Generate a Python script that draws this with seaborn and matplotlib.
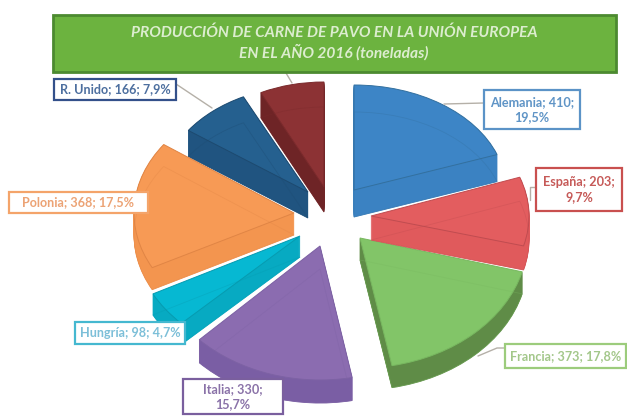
import matplotlib
matplotlib.use("Agg")
import matplotlib.pyplot as plt
import matplotlib.patheffects as pe
from matplotlib.patches import Wedge, Rectangle
from matplotlib.transforms import Affine2D
import seaborn as sns

# data (last slice has its label hidden behind the title)
paises = ['Alemania', 'España', 'Francia', 'Italia', 'Hungría', 'Polonia', 'R. Unido', 'Otros']
toneladas = [410, 203, 373, 330, 98, 368, 166, 152]
porcentajes = ['19,5%', '9,7%', '17,8%', '15,7%', '4,7%', '17,5%', '7,9%', '7,2%']
titulo = 'PRODUCCIÓN DE CARNE DE PAVO EN LA UNIÓN EUROPEA\nEN EL AÑO 2016 (toneladas)'

# look of each slice, in image pixels
face_colors = ['#3d85c6', '#e35d5f', '#82c568', '#8b6cb0', '#06b8d2', '#f79a55', '#25608f', '#8c3234']
wall_colors = ['#3b82c2', '#e05a5c', '#5f8c47', '#7a5ea4', '#07aac2', '#f3954f', '#205480', '#6e2426']
edge_colors = ['#33709f', '#c04c50', '#78b860', '#7d62a4', '#069bb0', '#e08545', '#1d4a70', '#7a2a2c']
apex = [(354, 190), (371, 216), (360, 238), (320, 246), (300, 236), (294, 213), (308, 192), (324, 187)]
radii = [(152, 105), (158, 115), (168, 130), (169, 134), (166, 125), (160, 118), (147, 106), (144, 105)]
depth = [27, 24, 22, 23, 21, 22, 26, 25]
draw_order = [7, 6, 0, 5, 4, 3, 2, 1]

sns.set_theme(style='white')
plt.rcParams['font.family'] = ['Lato', 'DejaVu Sans']

fig = plt.figure(figsize=(6.27, 4.16), dpi=100)
ax = fig.add_axes([0, 0, 1, 1])
wedges, _ = ax.pie(toneladas, startangle=90, counterclock=False,
                   colors=sns.color_palette(face_colors))
ax.set_aspect('auto')
ax.set_xlim(0, 627)
ax.set_ylim(416, 0)
ax.axis('off')


def slice_transform(i, shift=0):
    x, y = apex[i]
    return Affine2D().scale(radii[i][0], -radii[i][1]).translate(x, y + shift) + ax.transData


z = 2
for i in draw_order:
    w = wedges[i]
    # stack copies of the slice downwards to get the thickness
    for d in range(depth[i], 0, -1):
        wall = Wedge((0, 0), 1, w.theta1, w.theta2, color=wall_colors[i], lw=0.6,
                     transform=slice_transform(i, d), zorder=z)
        ax.add_patch(wall)
    w.set_transform(slice_transform(i))
    w.set_zorder(z + 0.2)
    w.set_edgecolor(edge_colors[i])
    w.set_linewidth(0.7)
    # faint see-through edge of the lower face
    low = Wedge((0, 0), 1, w.theta1, w.theta2, fill=False, ec=edge_colors[i], lw=0.6, alpha=0.35,
                transform=slice_transform(i, depth[i]), zorder=z + 0.3)
    ax.add_patch(low)
    z += 1

# leader lines
leaders = [((444, 104), (484, 103)), ((530, 200), (530, 187), (536, 187)),
           ((478, 356), (497, 348), (505, 348)), ((176, 84), (212, 108)), ((286, 73), (292, 83))]
for pts in leaders:
    ax.plot([p[0] for p in pts], [p[1] for p in pts], color='#b5b0a8', lw=1, zorder=30)

# title box
ax.add_patch(Rectangle((53, 15), 563, 57, fc='#6cb33f', ec='#4c8a30', lw=2, zorder=40,
                       path_effects=[pe.withSimplePatchShadow((1, -1), '#888888', 0.5)]))
ax.text(334, 43, titulo, ha='center', va='center', color='#dcedcf', fontsize=11.2, fontweight='bold',
        fontstyle='italic', linespacing=1.35, zorder=41)

# label boxes: x0, y0, x1, y1, border, text colour
boxes = [(484, 90, 580, 129, '#5b93c7', '#5f94c6'),
         (536, 168, 622, 211, '#c9504f', '#c65a58'),
         (505, 344, 626, 368, '#9ccc7c', '#a3c78a'),
         (183, 379, 283, 414, '#7a5f9e', '#8a72a8'),
         (75, 322, 185, 344, '#45b8d0', '#7cbfd8'),
         (9, 192, 148, 213, '#f4a46a', '#eca375'),
         (54, 79, 176, 100, '#33508a', '#4d6f9f')]
for i, (x0, y0, x1, y1, ec, tc) in enumerate(boxes):
    ax.add_patch(Rectangle((x0, y0), x1 - x0, y1 - y0, fc='white', ec=ec, lw=1.6, zorder=50,
                           path_effects=[pe.withSimplePatchShadow((1, -1), ec, 0.4)]))
    s = '{}; {}; {}'.format(paises[i], toneladas[i], porcentajes[i])
    if (x1 - x0) < 105:
        s = '{}; {};\n{}'.format(paises[i], toneladas[i], porcentajes[i])
    ax.text((x0 + x1) / 2, (y0 + y1) / 2, s, ha='center', va='center', color=tc, fontsize=9.1,
            fontweight='bold', linespacing=1.25, zorder=51)

fig.savefig('out.png', dpi=100)
